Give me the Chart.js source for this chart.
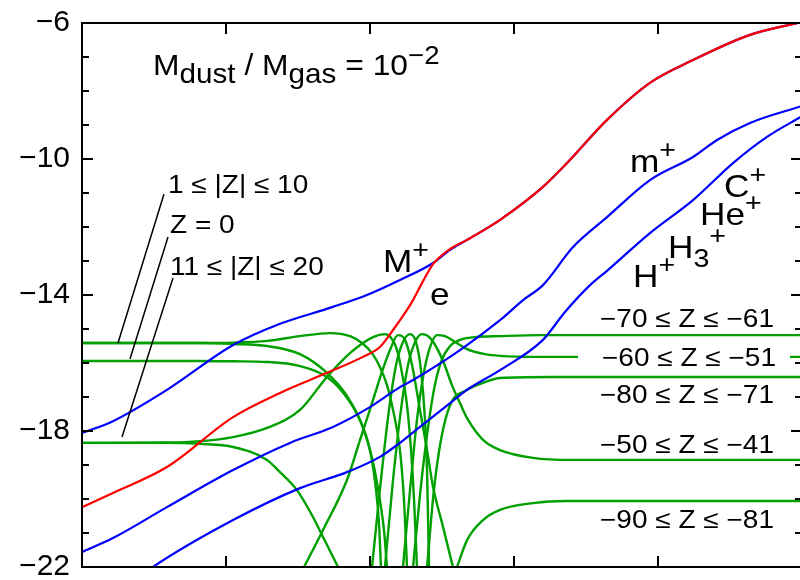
<!DOCTYPE html>
<html>
<head>
<meta charset="utf-8">
<script src="https://cdn.jsdelivr.net/npm/chart.js@4.4.0/dist/chart.umd.min.js"></script>
<style>
html,body{margin:0;padding:0;background:#fff;overflow:hidden;width:800px;height:580px;}
#wrap{width:804px;height:580px;}
</style>
</head>
<body>
<div id="wrap"><canvas id="c" width="804" height="580"></canvas></div>
<script>
// ---- axis ticks ----
const xTicks = [0, 1, 2, 3, 4, 5];
const yTicks = [-22, -18, -14, -10, -6];
const yMinorTicks = [-21, -20, -19, -17, -16, -15, -13, -12, -11, -9, -8, -7];

// ---- series values [x, log abundance] ----
const electron = [[0,-20.24],[0.215,-19.82],[0.59,-19.06],[1.049,-17.59],[1.375,-16.88],[1.701,-16.29],[1.951,-15.82],[2.069,-15.53],[2.16,-15.03],[2.257,-14.44],[2.299,-14.15],[2.361,-13.65],[2.438,-13.09],[2.556,-12.65],[2.674,-12.38],[2.903,-11.79],[3.201,-10.82],[3.368,-10.12],[3.646,-8.85],[3.944,-7.76],[4.243,-7.09],[4.639,-6.35],[5,-5.97]];
const ionMetal = [[0,-18.06],[0.215,-17.71],[0.59,-16.79],[1.049,-15.47],[1.354,-14.88],[1.743,-14.35],[1.979,-14.0],[2.208,-13.56],[2.438,-13.06],[2.556,-12.67],[2.674,-12.38],[2.903,-11.79],[3.201,-10.82],[3.368,-10.12],[3.646,-8.85],[3.944,-7.76],[4.243,-7.09],[4.639,-6.35],[5,-5.97]];
const ionMol = [[0,-21.56],[0.215,-21.15],[0.59,-20.24],[1.049,-19.15],[1.444,-18.35],[1.743,-17.88],[1.979,-17.35],[2.208,-16.71],[2.299,-16.5],[2.625,-15.62],[2.903,-14.74],[3.063,-14.15],[3.201,-13.71],[3.41,-12.59],[3.646,-11.71],[3.944,-10.62],[4.243,-9.94],[4.41,-9.44],[4.639,-8.94],[5,-8.44]];
const ionLight = [[0.215,-22.9],[0.493,-22.0],[1.049,-20.62],[1.514,-19.68],[1.84,-19.21],[2.069,-18.76],[2.208,-18.35],[2.347,-17.88],[2.556,-17.18],[2.674,-16.79],[2.903,-16.21],[3.201,-15.32],[3.354,-14.5],[3.528,-13.71],[3.646,-13.29],[3.944,-12.18],[4.243,-11.21],[4.521,-10.12],[4.757,-9.35],[5,-8.74]];

const zZero = [[0,-15.94],[0.819,-15.94],[1.049,-15.95],[1.285,-15.97],[1.514,-16.09],[1.701,-16.41],[1.826,-16.94],[1.931,-17.68],[2.0,-18.56],[2.042,-19.74],[2.063,-20.76],[2.076,-22.0]];
const zPos1 = [[0,-15.41],[0.819,-15.41],[1.049,-15.44],[1.285,-15.5],[1.514,-15.74],[1.701,-16.29],[1.84,-16.97],[1.944,-17.82],[2.014,-18.79],[2.063,-19.88],[2.097,-20.91],[2.118,-22.0]];
const zNeg1 = [[0,-15.41],[0.819,-15.41],[1.049,-15.4],[1.285,-15.35],[1.514,-15.21],[1.722,-15.12],[1.861,-15.21],[1.944,-15.41],[2.014,-15.71],[2.069,-16.12],[2.118,-16.65],[2.16,-17.38],[2.208,-18.56],[2.236,-20.03],[2.257,-22.0]];
const zPos2 = [[0,-18.35],[0.59,-18.35],[0.819,-18.38],[1.049,-18.47],[1.285,-18.85],[1.375,-19.21],[1.493,-19.74],[1.604,-20.53],[1.674,-21.12],[1.778,-22.0]];
const zNeg2 = [[0,-18.35],[0.59,-18.34],[0.819,-18.3],[1.049,-18.18],[1.285,-17.91],[1.514,-17.38],[1.701,-16.41],[1.861,-15.71],[2.021,-15.24],[2.104,-15.15],[2.146,-15.26],[2.188,-15.62],[2.222,-16.29],[2.257,-17.24],[2.285,-18.56],[2.306,-20.03],[2.326,-22.0]];
const zNeg3 = [[1.542,-22.0],[1.674,-20.91],[1.84,-19.44],[1.931,-18.26],[2.014,-17.18],[2.083,-16.26],[2.139,-15.62],[2.194,-15.18],[2.243,-15.32],[2.292,-16.06],[2.347,-17.38],[2.396,-18.56],[2.438,-19.65],[2.507,-20.82],[2.576,-22.0]];
const zNeg4 = [[2.014,-22.0],[2.076,-19.44],[2.132,-17.38],[2.181,-16.06],[2.229,-15.38],[2.278,-15.15],[2.319,-15.38],[2.354,-16.21],[2.382,-17.68],[2.396,-19.15],[2.41,-22.0]];
const zNeg5 = [[2.104,-22.0],[2.16,-19.44],[2.215,-17.38],[2.264,-16.06],[2.313,-15.38],[2.361,-15.15],[2.417,-15.26],[2.472,-15.62],[2.521,-16.09],[2.569,-16.65],[2.625,-17.18],[2.674,-17.62],[2.785,-18.26],[2.903,-18.56],[3.132,-18.79],[3.389,-18.85],[5,-18.85]];
const zNeg6 = [[2.229,-22.0],[2.278,-19.74],[2.326,-17.68],[2.375,-16.26],[2.417,-15.53],[2.465,-15.18],[2.521,-15.21],[2.59,-15.38],[2.674,-15.59],[2.799,-15.74],[2.903,-15.79],[3.181,-15.82],[5,-15.82]];
const zNeg7 = [[2.299,-22.0],[2.347,-19.88],[2.396,-18.12],[2.444,-16.79],[2.493,-15.97],[2.556,-15.5],[2.625,-15.32],[2.729,-15.24],[2.903,-15.21],[3.181,-15.18],[5,-15.18]];
const zNeg8 = [[2.396,-22.0],[2.444,-19.74],[2.493,-18.26],[2.556,-17.24],[2.674,-16.79],[2.799,-16.56],[2.903,-16.44],[3.25,-16.41],[5,-16.41]];
const zNeg9 = [[2.604,-22.0],[2.674,-21.21],[2.785,-20.62],[2.903,-20.32],[3.132,-20.12],[3.368,-20.06],[5,-20.06]];

// ---- styling ----
const FONT = '"Liberation Sans", Arial, Helvetica, sans-serif';
const RED = '#ff0000', BLUE = '#0000ff', GREEN = '#00a000';

function ds(label, pts, color, width) {
  return {
    label, data: pts.map(p => ({x: p[0], y: p[1]})),
    showLine: true, borderColor: color, borderWidth: width,
    pointRadius: 0, pointHoverRadius: 0, fill: false,
    cubicInterpolationMode: 'monotone'
  };
}

const datasets = [
  ds('e', electron, RED, 2.2),
  ds('M+', ionMetal, BLUE, 2.2),
  ds('m+', ionMol, BLUE, 2.2),
  ds('H+', ionLight, BLUE, 2.2),
  ds('Z=0', zZero, GREEN, 2.4),
  ds('+1..+10', zPos1, GREEN, 2.4),
  ds('-1..-10', zNeg1, GREEN, 2.4),
  ds('+11..+20', zPos2, GREEN, 2.4),
  ds('-11..-20', zNeg2, GREEN, 2.4),
  ds('-21..-30', zNeg3, GREEN, 2.4),
  ds('-31..-40', zNeg4, GREEN, 2.4),
  ds('-41..-50', zNeg5, GREEN, 2.4),
  ds('-51..-60', zNeg6, GREEN, 2.4),
  ds('-61..-70', zNeg7, GREEN, 2.4),
  ds('-71..-80', zNeg8, GREEN, 2.4),
  ds('-81..-90', zNeg9, GREEN, 2.4)
];

// ---- annotation texts (pixel positions, baseline-left) ----
const textItems = [
  {x:153, y:75, sx:1.06, parts:[{t:'M',s:30},{t:'dust',s:28,dy:8},{t:' / M',s:30},{t:'gas',s:28,dy:8},{t:' = 10',s:30},{t:'\u22122',s:26,dy:-11}]},
  {x:383, y:272, sx:1.1, parts:[{t:'M',s:32},{t:'+',s:26,dy:-14}]},
  {x:430, y:305, sx:1.1, parts:[{t:'e',s:32}]},
  {x:630, y:172, sx:1.1, parts:[{t:'m',s:32},{t:'+',s:26,dy:-14}]},
  {x:724, y:197, sx:1.1, parts:[{t:'C',s:32},{t:'+',s:26,dy:-14}]},
  {x:700, y:225, sx:1.1, parts:[{t:'He',s:32},{t:'+',s:26,dy:-14}]},
  {x:668, y:258, sx:1.1, parts:[{t:'H',s:32},{t:'3',s:26,dy:9},{t:'+',s:26,dy:-14}]},
  {x:633, y:287, sx:1.1, parts:[{t:'H',s:32},{t:'+',s:26,dy:-14}]},
  {x:600, y:327, sx:1.12, parts:[{t:'\u221270 \u2264 Z \u2264 \u221261',s:25}]},
  {x:602, y:366, sx:1.12, parts:[{t:'\u221260 \u2264 Z \u2264 \u221251',s:25}]},
  {x:600, y:403, sx:1.12, parts:[{t:'\u221280 \u2264 Z \u2264 \u221271',s:25}]},
  {x:600, y:453, sx:1.12, parts:[{t:'\u221250 \u2264 Z \u2264 \u221241',s:25}]},
  {x:600, y:528, sx:1.12, parts:[{t:'\u221290 \u2264 Z \u2264 \u221281',s:25}]},
  {x:168, y:193, sx:1.12, parts:[{t:'1 \u2264 |Z| \u2264 10',s:25}]},
  {x:170, y:233, sx:1.12, parts:[{t:'Z = 0',s:25}]},
  {x:170, y:275, sx:1.12, parts:[{t:'11 \u2264 |Z| \u2264 20',s:25}]}
];
const leaders = [[164,194,118,343],[168,237,130,359],[173,278,122,437]];
const labelBox = {x:578, y:344, w:212, h:27};

function drawParts(ctx, it) {
  ctx.save();
  ctx.translate(it.x, it.y);
  ctx.scale(it.sx, 1);
  ctx.fillStyle = '#000';
  ctx.textAlign = 'left';
  ctx.textBaseline = 'alphabetic';
  let cx = 0;
  for (const p of it.parts) {
    ctx.font = p.s + 'px ' + FONT;
    ctx.fillText(p.t, cx, p.dy || 0);
    cx += ctx.measureText(p.t).width;
  }
  ctx.restore();
}

const framePlugin = {
  id: 'frame',
  afterDatasetsDraw(chart) {
    const {ctx, chartArea: a, scales: {x, y}} = chart;
    ctx.save();
    // white box behind one label
    ctx.fillStyle = '#fff';
    ctx.fillRect(labelBox.x, labelBox.y, labelBox.w, labelBox.h);
    // frame
    ctx.strokeStyle = '#000';
    ctx.lineWidth = 2;
    ctx.strokeRect(a.left, a.top, a.right - a.left, a.bottom - a.top);
    ctx.beginPath();
    for (const v of yTicks) {
      const py = y.getPixelForValue(v);
      ctx.moveTo(a.left, py); ctx.lineTo(a.left + 11, py);
      ctx.moveTo(a.right, py); ctx.lineTo(a.right - 11, py);
    }
    for (const v of yMinorTicks) {
      const py = y.getPixelForValue(v);
      ctx.moveTo(a.left, py); ctx.lineTo(a.left + 7, py);
      ctx.moveTo(a.right, py); ctx.lineTo(a.right - 7, py);
    }
    for (const v of xTicks) {
      const px = x.getPixelForValue(v);
      ctx.moveTo(px, a.bottom); ctx.lineTo(px, a.bottom - 11);
      ctx.moveTo(px, a.top); ctx.lineTo(px, a.top + 11);
    }
    ctx.stroke();
    // leader lines
    ctx.lineWidth = 1.5;
    ctx.beginPath();
    for (const l of leaders) { ctx.moveTo(l[0], l[1]); ctx.lineTo(l[2], l[3]); }
    ctx.stroke();
    ctx.restore();
    for (const it of textItems) drawParts(ctx, it);
  }
};

new Chart(document.getElementById('c'), {
  type: 'scatter',
  data: { datasets },
  plugins: [framePlugin],
  options: {
    responsive: false,
    animation: false,
    events: [],
    layout: { padding: { top: 23, right: 2, left: 0, bottom: 0 } },
    plugins: { legend: { display: false }, tooltip: { enabled: false } },
    scales: {
      x: {
        type: 'linear', min: 0, max: 5,
        grid: { display: false, drawTicks: false },
        border: { display: false },
        ticks: { display: false },
        afterBuildTicks: s => { s.ticks = xTicks.map(v => ({value: v})); },
        afterFit: s => { s.height = 13; s.paddingLeft = 0; s.paddingRight = 0; }
      },
      y: {
        type: 'linear', min: -22, max: -6,
        grid: { display: false, drawTicks: false },
        border: { display: false },
        afterBuildTicks: s => { s.ticks = yTicks.map(v => ({value: v})); },
        ticks: {
          color: '#000', padding: 12,
          font: { family: FONT, size: 30 },
          callback: v => (v < 0 ? '\u2212' : '') + Math.abs(v)
        },
        afterFit: s => { s.width = 82; s.paddingTop = 0; s.paddingBottom = 0; }
      }
    }
  }
});
</script>
</body>
</html>
